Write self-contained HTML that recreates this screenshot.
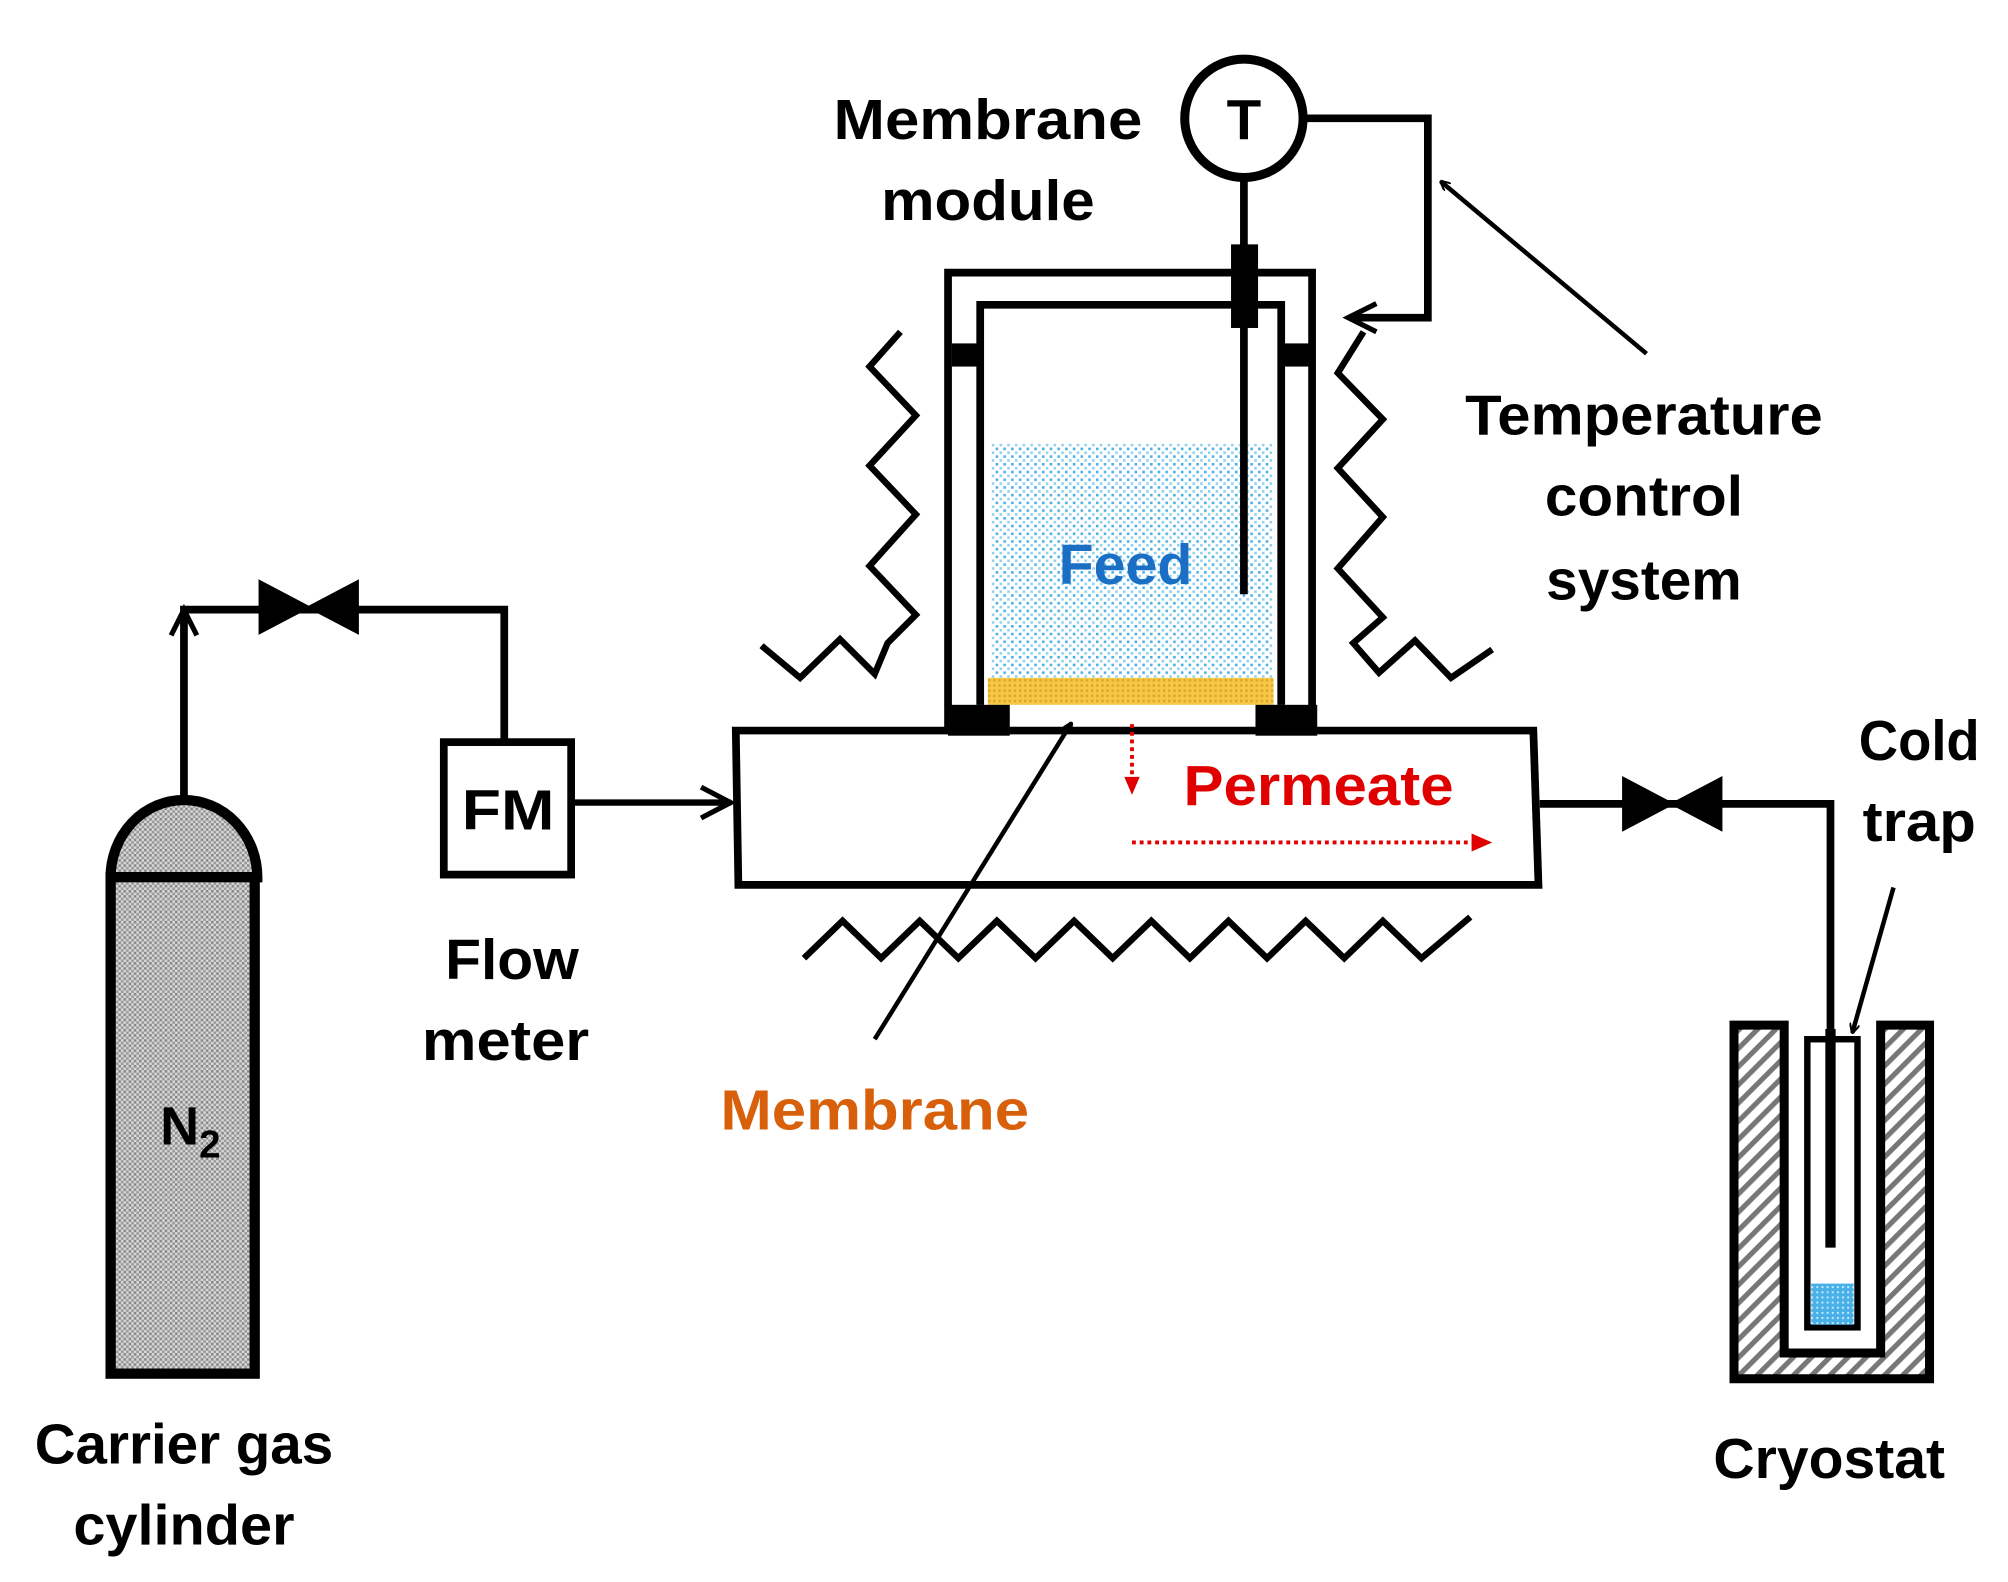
<!DOCTYPE html>
<html><head><meta charset="utf-8"><style>html,body{margin:0;padding:0;background:#fff}svg{display:block}</style></head><body>
<svg width="2008" height="1582" viewBox="0 0 1561 1230" preserveAspectRatio="none" xmlns="http://www.w3.org/2000/svg" font-family="Liberation Sans, sans-serif" font-weight="bold">
<defs>
<pattern id="gray" width="4" height="4" patternUnits="userSpaceOnUse"><rect width="4" height="4" fill="#d8d8d8"/><rect width="2" height="2" fill="#888"/><rect x="2" y="2" width="2" height="2" fill="#999"/></pattern>
<pattern id="blue" width="6" height="6" patternUnits="userSpaceOnUse"><rect width="6" height="6" fill="#fff"/><rect width="2" height="2" fill="#4ab0e8"/><rect x="3" y="3" width="2" height="2" fill="#8fd0f0"/></pattern>
<pattern id="blue2" width="4" height="4" patternUnits="userSpaceOnUse"><rect width="4" height="4" fill="#4ab0e8"/><rect width="1.5" height="1.5" fill="#c8ecff"/></pattern>
<pattern id="yel" width="4" height="4" patternUnits="userSpaceOnUse"><rect width="4" height="4" fill="#f5c84a"/><rect width="2" height="2" fill="#e0a820"/></pattern>
<pattern id="hatch" width="10" height="10" patternUnits="userSpaceOnUse" patternTransform="rotate(45)"><rect width="10" height="10" fill="#fff"/><rect width="4" height="10" fill="#777"/></pattern>
<marker id="ah" viewBox="0 0 10 10" refX="9" refY="5" markerWidth="8" markerHeight="8" orient="auto" markerUnits="userSpaceOnUse"><path d="M0,0 L10,5 L0,10" fill="none" stroke="#000" stroke-width="2"/></marker>
</defs>
<g stroke="#000" fill="none">
<!-- cylinder -->
<path d="M86,682 A57,60 0 0 1 200,682 Z" fill="url(#gray)" stroke-width="8"/>
<rect x="86" y="682" width="112" height="386" fill="url(#gray)" stroke-width="8"/>
<!-- pipe -->
<path d="M143,620 V474 H392 V577" stroke-width="6"/>
<path d="M133,494 L143,474 L153,494" stroke-width="4"/>
<path d="M202,452 L240,472 L202,492 Z M278,452 L240,472 L278,492 Z" fill="#000" stroke-width="2"/>
<!-- FM -->
<rect x="345" y="577" width="99" height="103" fill="#fff" stroke-width="6"/>
<path d="M444,624 H568" stroke-width="5"/>
<path d="M545,612 L568,624 L545,636" stroke-width="4"/>
<!-- base box -->
<path d="M572,568 H1192 L1196,688 H574 Z" fill="#fff" stroke-width="6"/>
<!-- feed -->
<rect x="770" y="345" width="220" height="182" fill="url(#blue)" stroke="none"/>
<rect x="768" y="527" width="222" height="21" fill="url(#yel)" stroke="none"/>
<!-- module walls -->
<path d="M737,568 V212 H1020 V568" stroke-width="6"/>
<path d="M762,548 V237 H996 V548" stroke-width="6"/>
<rect x="737" y="548" width="48" height="24" fill="#000" stroke="none"/>
<rect x="976" y="548" width="48" height="24" fill="#000" stroke="none"/>
<rect x="740" y="267" width="22" height="18" fill="#000" stroke="none"/>
<rect x="998" y="267" width="22" height="18" fill="#000" stroke="none"/>
<!-- thermometer -->
<circle cx="967" cy="92" r="46" fill="#fff" stroke-width="7"/>
<path d="M967,139 V462" stroke-width="6"/>
<rect x="957" y="190" width="21" height="65" fill="#000" stroke="none"/>
<path d="M1014,92 H1110 V247 H1050" stroke-width="6"/>
<path d="M1070,236 L1048,247 L1070,258" stroke-width="4"/>
<path d="M1280,275 L1120,141" stroke-width="3.5" marker-end="url(#ah)"/>
<!-- zigzags -->
<path d="M700,258 L676,285 L712,323 L676,362 L712,400 L676,440 L712,478 L690,500 L680,524 L653,497 L622,527 L592,502" stroke-width="5"/>
<path d="M1060,258 L1040,290 L1075,326 L1040,364 L1075,402 L1040,442 L1075,480 L1052,500 L1072,523 L1100,498 L1128,527 L1160,505" stroke-width="5"/>
<path d="M625,745 L655,716 L685,745 L715,716 L745,745 L775,716 L805,745 L835,716 L865,745 L895,716 L925,745 L955,716 L985,745 L1015,716 L1045,745 L1075,716 L1105,745 L1143,713" stroke-width="5"/>
<!-- membrane arrow -->
<path d="M680,808 L833,562" stroke-width="3.5" marker-end="url(#ah)"/>
<!-- permeate arrows -->
<path d="M880,563 V606" stroke="#e00000" stroke-width="3" stroke-dasharray="3,3"/>
<path d="M874,604 L880,618 L886,604 Z" fill="#e00000" stroke="none"/>
<path d="M880,655 H1146" stroke="#e00000" stroke-width="3" stroke-dasharray="3,3"/>
<path d="M1144,648 L1160,655 L1144,662 Z" fill="#e00000" stroke="none"/>
<!-- outlet -->
<path d="M1197,625 H1423 V970" stroke-width="6"/>
<path d="M1262,605 L1300,625 L1262,645 Z M1338,605 L1300,625 L1338,645 Z" fill="#000" stroke-width="2"/>
<!-- cryostat -->
<path d="M1348,797 H1387 V1052 H1462 V797 H1500 V1072 H1348 Z" fill="url(#hatch)" stroke-width="7"/>
<rect x="1405" y="808" width="39" height="224" fill="#fff" stroke-width="5"/>
<rect x="1408" y="998" width="33" height="32" fill="url(#blue2)" stroke="none"/>
<path d="M1423,800 V970" stroke-width="8"/>
<path d="M1472,690 L1440,803" stroke-width="3.5" marker-end="url(#ah)"/>
</g>
<g font-size="44" text-anchor="middle" fill="#000">
<text x="768" y="108" textLength="240" lengthAdjust="spacingAndGlyphs">Membrane</text>
<text x="768" y="171" textLength="166" lengthAdjust="spacingAndGlyphs">module</text>
<text x="967" y="108" font-size="44">T</text>
<text x="1278" y="338" textLength="278" lengthAdjust="spacingAndGlyphs">Temperature</text>
<text x="1278" y="401" textLength="154" lengthAdjust="spacingAndGlyphs">control</text>
<text x="1278" y="466" textLength="152" lengthAdjust="spacingAndGlyphs">system</text>
<text x="875" y="454" fill="#1a6fc4" textLength="104" lengthAdjust="spacingAndGlyphs">Feed</text>
<text x="1025" y="626" fill="#e00000" textLength="210" lengthAdjust="spacingAndGlyphs">Permeate</text>
<text x="395" y="645" textLength="72" lengthAdjust="spacingAndGlyphs">FM</text>
<text x="398" y="761" textLength="104" lengthAdjust="spacingAndGlyphs">Flow</text>
<text x="393" y="824" textLength="130" lengthAdjust="spacingAndGlyphs">meter</text>
<text x="680" y="878" fill="#d9600b" textLength="240" lengthAdjust="spacingAndGlyphs">Membrane</text>
<text x="1492" y="591" textLength="94" lengthAdjust="spacingAndGlyphs">Cold</text>
<text x="1492" y="654" textLength="88" lengthAdjust="spacingAndGlyphs">trap</text>
<text x="143" y="1138" textLength="232" lengthAdjust="spacingAndGlyphs">Carrier gas</text>
<text x="143" y="1201" textLength="172" lengthAdjust="spacingAndGlyphs">cylinder</text>
<text x="1422" y="1149" textLength="180" lengthAdjust="spacingAndGlyphs">Cryostat</text>
<text x="148" y="890" font-size="42">N<tspan font-size="30" dy="10">2</tspan></text>
</g>
</svg>
</body></html>
